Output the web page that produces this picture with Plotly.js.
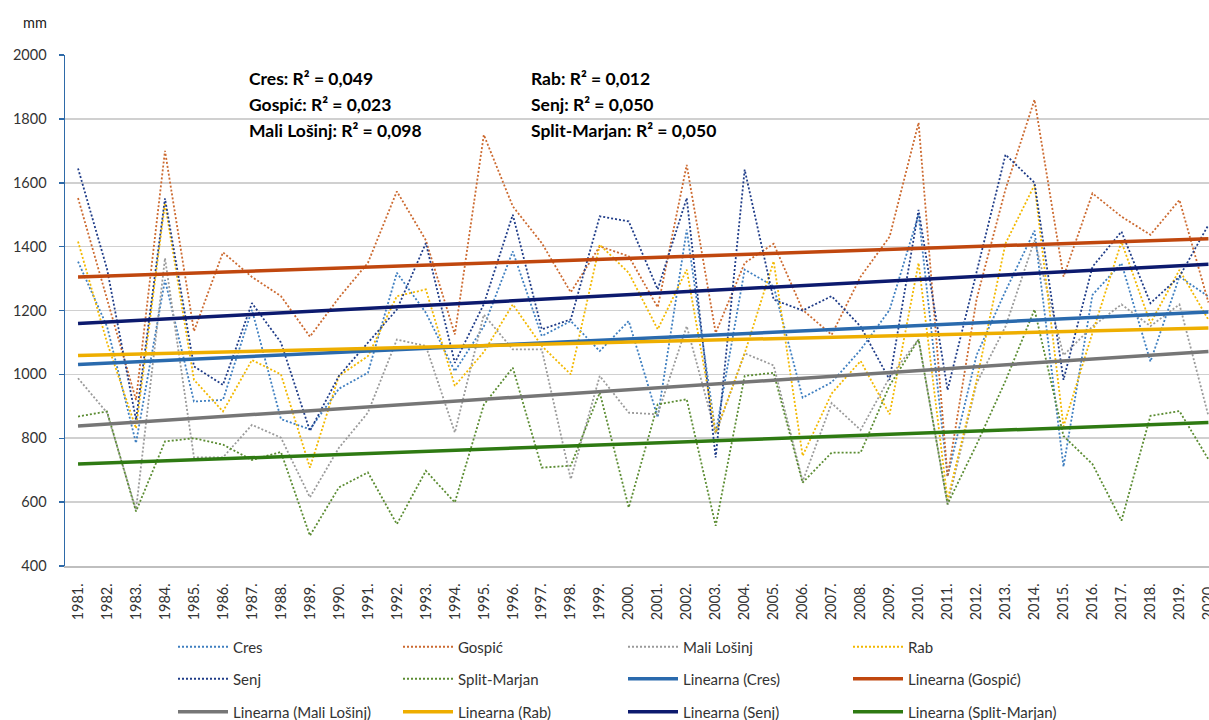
<!DOCTYPE html>
<html><head><meta charset="utf-8">
<script src="https://cdn.plot.ly/plotly-3.0.1.min.js"></script>
<style>html,body{margin:0;padding:0;background:#fff;} #chart{width:1209px;height:720px;}</style>
</head><body><div id="chart"></div>
<script>
// ---- data (annual precipitation, mm) ----
const years = ['1981.','1982.','1983.','1984.','1985.','1986.','1987.','1988.','1989.','1990.',
  '1991.','1992.','1993.','1994.','1995.','1996.','1997.','1998.','1999.','2000.',
  '2001.','2002.','2003.','2004.','2005.','2006.','2007.','2008.','2009.','2010.',
  '2011.','2012.','2013.','2014.','2015.','2016.','2017.','2018.','2019.','2020.'];
const cres = [1353,1150,785,1296,915,920,1202,860,828,955,
  1005,1318,1193,1010,1150,1385,1120,1167,1073,1167,
  865,1453,815,1328,1276,927,975,1077,1202,1500,
  680,1060,1261,1450,711,1249,1348,1040,1306,1244];
const gospic = [1552,1240,920,1700,1135,1382,1305,1245,1118,1240,
  1349,1573,1420,1125,1750,1526,1411,1257,1401,1370,
  1210,1656,1130,1349,1409,1202,1124,1306,1431,1788,
  680,1235,1580,1860,1306,1567,1494,1437,1546,1225];
const maliLosinj = [988,880,576,1364,740,740,842,802,615,770,
  880,1109,1089,818,1187,1078,1078,672,995,880,
  875,1151,815,1066,1028,665,910,826,990,1110,
  592,972,1150,1420,1060,1150,1219,1151,1219,870];
const rab = [1416,1100,831,1536,983,884,1045,1000,708,995,
  1057,1245,1266,964,1070,1219,1089,1000,1406,1318,
  1141,1328,818,1066,1354,745,940,1042,875,1349,
  607,980,1410,1593,837,1130,1415,1160,1327,1171];
const senj = [1645,1330,858,1551,1025,967,1223,1100,823,995,
  1099,1203,1411,1036,1220,1500,1141,1172,1495,1479,
  1266,1552,740,1641,1234,1200,1245,1150,983,1515,
  951,1320,1688,1600,983,1337,1447,1223,1306,1468];
const splitMarjan = [868,884,571,790,800,780,732,757,495,646,
  693,531,698,599,905,1021,708,714,943,583,
  906,922,526,995,1005,661,755,755,965,1109,
  594,780,980,1203,807,719,542,870,885,734];
// linear trend lines: value at first and last year
const trendCres = [1031, 1195];
const trendGospic = [1305, 1425];
const trendMaliLosinj = [838, 1072];
const trendRab = [1059, 1145];
const trendSenj = [1159, 1345];
const trendSplitMarjan = [719, 849];
const r2Left = ['Cres: R² = 0,049', 'Gospić: R² = 0,023', 'Mali Lošinj: R² = 0,098'];
const r2Right = ['Rab: R² = 0,012', 'Senj: R² = 0,050', 'Split-Marjan: R² = 0,050'];

const FONT = 'Lato, "Liberation Sans", sans-serif';
const DOT = '2px,2px';
function dotted(name, y, color, legend) {
  return {type:'scatter', mode:'lines', name:name, x:years, y:y,
    line:{color:color, width:1.8, dash:DOT}, legend:legend, hoverinfo:'skip'};
}
function trend(name, t, color, legend) {
  return {type:'scatter', mode:'lines', name:name,
    x:[years[0], years[years.length-1]], y:t,
    line:{color:color, width:3.5}, legend:legend, hoverinfo:'skip'};
}
const data = [
  dotted('Cres', cres, '#3f7fc0', 'legend'),
  dotted('Gospić', gospic, '#cc6a30', 'legend'),
  dotted('Mali Lošinj', maliLosinj, '#9a9a9a', 'legend'),
  dotted('Rab', rab, '#f2b800', 'legend'),
  dotted('Senj', senj, '#1f3c88', 'legend2'),
  dotted('Split-Marjan', splitMarjan, '#5b8c32', 'legend2'),
  trend('Linearna (Cres)', trendCres, '#2a6aad', 'legend2'),
  trend('Linearna (Gospić)', trendGospic, '#c0470e', 'legend2'),
  trend('Linearna (Mali Lošinj)', trendMaliLosinj, '#767676', 'legend3'),
  trend('Linearna (Rab)', trendRab, '#eeae00', 'legend3'),
  trend('Linearna (Senj)', trendSenj, '#0c1a6e', 'legend3'),
  trend('Linearna (Split-Marjan)', trendSplitMarjan, '#2e7a12', 'legend3')
];
function legendRow(yPx) {
  return {orientation:'h', xref:'container', yref:'container',
    x:173/1209, y:1 - yPx/720, xanchor:'left', yanchor:'middle',
    font:{family:FONT, size:15, color:'#333'},
    itemwidth:50, entrywidth:160, entrywidthmode:'pixels',
    bgcolor:'rgba(0,0,0,0)', borderwidth:0, traceorder:'normal'};
}
const annotations = [];
r2Left.forEach((t,i) => annotations.push({text:t, xref:'paper', yref:'paper',
  x:(247-65)/1144, y:(566-(78+26*i))/511, xanchor:'left', yanchor:'middle', showarrow:false,
  font:{family:FONT, size:17.5, color:'#000', weight:'bold'}}));
r2Right.forEach((t,i) => annotations.push({text:t, xref:'paper', yref:'paper',
  x:(529-65)/1144, y:(566-(78+26*i))/511, xanchor:'left', yanchor:'middle', showarrow:false,
  font:{family:FONT, size:17.5, color:'#000', weight:'bold'}}));
annotations.push({text:'mm', xref:'paper', yref:'paper', x:(21-65)/1144, y:(566-22)/511,
  xanchor:'left', yanchor:'middle', showarrow:false, font:{family:FONT, size:14.5, color:'#222'}});

const layout = {
  width:1209, height:720,
  margin:{l:65, r:0, t:55, b:154},
  paper_bgcolor:'#fff', plot_bgcolor:'#fff',
  showlegend:true,
  legend:legendRow(647), legend2:legendRow(679), legend3:legendRow(712),
  xaxis:{type:'category', range:[-0.45, 39.02], showgrid:false, zeroline:false,
    showline:true, linecolor:'#bfbfbf', linewidth:1.5, ticks:'', tickangle:-90,
    ticklabelstandoff:10, tickfont:{family:FONT, size:14.5, color:'#333'}, fixedrange:true},
  yaxis:{range:[400, 2000], dtick:200, tick0:400, showgrid:true, gridcolor:'#d0d0d0', gridwidth:1.6,
    zeroline:false, showline:true, linecolor:'#2e6aa8', linewidth:1.5, ticks:'outside', ticklen:5,
    tickcolor:'#2e6aa8', tickwidth:1.5, ticklabelstandoff:9,
    tickfont:{family:FONT, size:14.5, color:'#333'}, fixedrange:true},
  annotations:annotations
};
Plotly.newPlot('chart', data, layout, {displayModeBar:false, staticPlot:true});
</script>
</body></html>
